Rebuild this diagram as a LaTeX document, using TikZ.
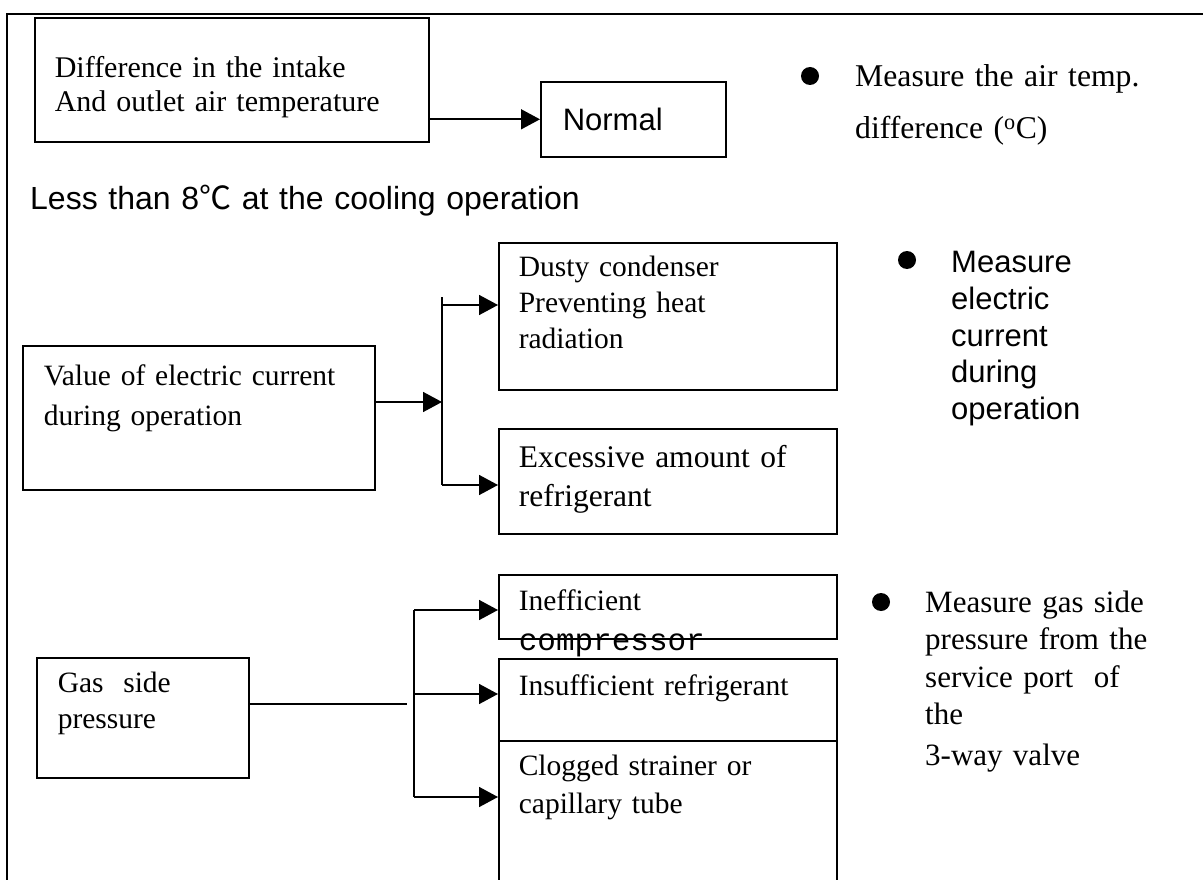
\documentclass[tikz,border=0pt]{standalone}
\usepackage{fontspec}
\setmainfont{Liberation Serif}
\setsansfont{Liberation Sans}
\setmonofont{Liberation Mono}
\newfontfamily\cjkfont{Noto Sans CJK SC}
\usetikzlibrary{arrows.meta,positioning,calc}

\newcommand{\fs}[2]{\fontsize{#1}{#2}\selectfont}

\tikzset{
  box/.style={draw, line width=1.6pt, anchor=north west, inner xsep=20pt, inner ysep=0pt, align=left},
  arr/.style={line width=1.6pt, -{Triangle[length=19pt,width=20pt]}},
  link/.style={line width=1.6pt},
  dot/.style={circle, fill, inner sep=0pt, minimum size=18pt},
  note/.style={anchor=base west, inner sep=0pt, align=left},
}

\begin{document}
\begin{tikzpicture}[x=1pt,y=-1pt]
  \clip (0,0) rectangle (1203,880);
  % outer frame
  \draw[link] (7,880) -- (7,14) -- (1203,14);

  % first check: air temperature
  \node[box, text width=354pt, text height=60pt, text depth=64pt, font=\fs{30}{34}] (diff) at (34,17)
    {Difference in the intake\\And outlet air temperature};
  \node[box, inner xsep=22pt, text width=141pt, text height=48.5pt, text depth=26.5pt, font=\sffamily\fs{31}{36}] (normal) at (540,81) {Normal};
  \draw[arr] (diff.east |- normal.west) -- (normal.west);
  \node[dot] (b1) at (810,76) {};
  \node[note, text width=320pt, font=\fs{31.7}{52}] (meas1) at (855,87)
    {Measure the air temp.\\difference (\textsuperscript{o}C)};
  \node[note, text width=600pt, font=\sffamily\fs{32}{38}] (less) at (30,209)
    {Less than 8{\cjkfont ℃} at the cooling operation};

  % electric current
  \node[box, inner xsep=21pt, text width=310pt, text height=40pt, text depth=104pt, font=\fs{29.5}{40}] (value) at (22,345)
    {Value of electric current\\during operation};
  \node[box, text width=298pt, text height=34pt, text depth=113pt, font=\fs{29.5}{36}] (dusty) at (498,242)
    {Dusty condenser\\Preventing heat\\radiation};
  \node[box, text width=298pt, text height=39pt, text depth=66pt, font=\fs{31.5}{39}] (excess) at (498,428)
    {Excessive amount of\\refrigerant};
  \coordinate (f1top) at (442,297);
  \coordinate (f1a) at (442,305);
  \coordinate (f1mid) at (442,402);
  \coordinate (f1bot) at (442,485);
  \draw[arr] (value.east |- f1mid) -- (f1mid);
  \draw[link] (f1top) -- (f1bot);
  \draw[arr] (f1a) -- (f1a -| dusty.west);
  \draw[arr] (f1bot) -- (f1bot -| excess.west);
  \node[dot] (b2) at (907,260) {};
  \node[note, text width=240pt, font=\sffamily\fs{31}{37}] (meas2) at (951,272)
    {Measure\\electric\\current\\during\\operation};

  % gas side pressure
  \node[box, inner xsep=21pt, text width=170pt, text height=35pt, text depth=85pt, font=\fs{29.5}{36}] (gas) at (36,657)
    {Gas\ \ side\\pressure};
  \node[box, text width=298pt, text height=36pt, text depth=28pt, font=\fs{29.5}{33}] (ineff) at (498,574)
    {Inefficient\\\raisebox{-7pt}[0pt][0pt]{\ttfamily\fs{31}{33}compressor}};
  \node[box, text width=298pt, text height=37pt, text depth=45pt, font=\fs{29.5}{37}] (insuf) at (498,658)
    {Insufficient refrigerant};
  \node[box, text width=298pt, text height=35pt, text depth=125pt, font=\fs{29.5}{38}] (clog) at (498,740)
    {Clogged strainer or\\capillary tube};
  \coordinate (f2in) at (407,704);
  \coordinate (f2top) at (414,610);
  \coordinate (f2mid) at (414,694);
  \coordinate (f2bot) at (414,797);
  \draw[link] (gas.east |- f2in) -- (f2in);
  \draw[link] (f2top) -- (f2bot);
  \draw[arr] (f2top) -- (f2top -| ineff.west);
  \draw[arr] (f2mid) -- (f2mid -| insuf.west);
  \draw[arr] (f2bot) -- (f2bot -| clog.west);
  \node[dot] (b3) at (881,602) {};
  \node[note, text width=260pt, font=\fs{31}{37.5}] (meas3) at (925,612)
    {Measure gas side\\pressure from the\\service port\ \ of\\the\\[3pt]3-way valve};
\end{tikzpicture}
\end{document}
